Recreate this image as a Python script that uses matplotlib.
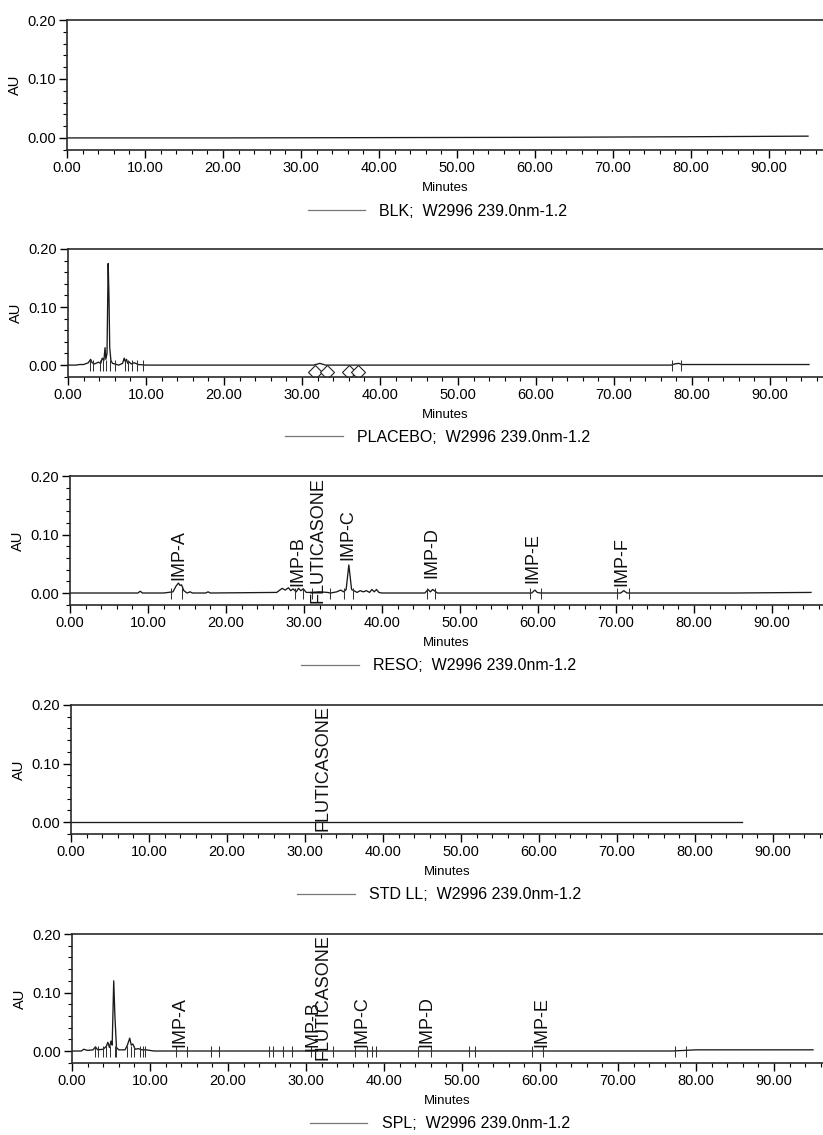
import matplotlib
matplotlib.use("Agg")
from matplotlib import pyplot as plt
from matplotlib.ticker import MultipleLocator, FormatStrFormatter
from matplotlib.lines import Line2D

plt.rcParams["font.family"] = ["Liberation Sans", "DejaVu Sans"]

# ---- data (time in minutes, AU) ----
run_names = ["BLK", "PLACEBO", "RESO", "STD LL", "SPL"]
detector = "W2996 239.0nm-1.2"

blk_t = [0, 10, 20, 40, 60, 80, 95]
blk_au = [0, 0, 0, 0.0005, 0.001, 0.002, 0.003]

placebo_t = [0, 1.0, 1.5, 2.0, 2.6, 2.9, 3.1, 3.4, 3.9, 4.2, 4.4, 4.6, 4.75,
             4.85, 5.0, 5.15, 5.25, 5.35, 5.5, 5.7, 6.0, 6.5, 7.0, 7.2, 7.35,
             7.5, 7.65, 7.8, 8.1, 8.5, 9.0, 10, 20, 31.5, 32.3, 33.0, 50,
             72, 77.3, 77.8, 78.3, 78.7, 85, 95]
placebo_au = [0, 0, 0.001, 0.001, 0.004, 0.010, 0.004, 0.002, 0.005, 0.003,
              0.012, 0.008, 0.030, 0.010, 0.020, 0.175, 0.120, 0.030, 0.008,
              0.003, 0.002, 0, 0.003, 0.012, 0.006, 0.010, 0.003, 0.006,
              0.002, 0.004, 0.001, 0, 0, 0, 0.003, 0, 0, 0, 0, 0.002, 0.003,
              0.001, 0.001, 0.001]

reso_t = [0, 5, 8.7, 9.0, 9.3, 12, 13.2, 13.6, 13.9, 14.1, 14.3, 14.6, 15.0,
          15.4, 15.7, 17.4, 17.7, 18.0, 26.5, 27.2, 27.6, 28.0, 28.3, 28.6,
          29.0, 29.3, 29.6, 29.9, 30.3, 31.0, 32.0, 33.0, 33.4, 34.2, 34.7,
          35.1, 35.4, 35.75, 36.1, 36.4, 36.8, 37.2, 37.6, 38.0, 38.4, 38.7,
          39.0, 39.3, 39.6, 40.0, 45.5, 45.9, 46.2, 46.5, 46.8, 47.1, 47.5,
          59.2, 59.6, 59.9, 60.3, 70.6, 71.0, 71.4, 85, 95]
reso_au = [0, 0, 0, 0.003, 0, 0, 0.002, 0.012, 0.017, 0.013, 0.014, 0.004, 0,
           0.002, 0, 0, 0.002, 0, 0.001, 0.008, 0.005, 0.009, 0.004, 0.007,
           0.002, 0.008, 0.004, 0.007, 0.001, 0.001, 0.002, 0.001, 0, 0.002,
           0.005, 0.002, 0.006, 0.048, 0.006, 0.004, 0.001, 0.004, 0.002,
           0.004, 0.001, 0.006, 0.002, 0.006, 0.001, 0, 0, 0.006, 0.002,
           0.006, 0.003, 0, 0, 0, 0.005, 0.001, 0, 0, 0.004, 0, 0, 0.001]

std_t = [0, 20, 40, 60, 86]
std_au = [0, 0, 0, 0, 0]

spl_t = [0, 1.2, 1.5, 2.0, 2.7, 3.0, 3.3, 4.0, 4.4, 4.6, 4.8, 5.0, 5.15,
         5.35, 5.5, 5.7, 6.0, 6.8, 7.1, 7.4, 7.6, 7.8, 8.1, 8.5, 9.0, 9.5,
         10.5, 20, 40, 60, 77, 80, 95]
spl_au = [0, 0, 0.003, 0.001, 0.002, 0.007, 0.002, 0.003, 0.008, 0.015,
          0.006, 0.017, 0.010, 0.120, 0.060, 0.006, 0.002, 0.002, 0.010,
          0.022, 0.010, 0.012, 0.003, 0.004, 0.002, 0.002, 0, 0, 0, 0, 0,
          0.002, 0.002]

# integration start/end marks
blk_marks = []
placebo_marks = [2.8, 3.2, 4.1, 4.5, 4.9, 5.4, 6.0, 7.3, 7.7, 8.2, 8.8, 9.6,
                 77.4, 78.6]
reso_marks = [13.0, 14.4, 28.8, 29.9, 31.0, 33.3, 35.1, 36.3, 45.8, 46.8,
              59.0, 60.4, 70.1, 71.7]
std_marks = []
spl_marks = [2.9, 3.3, 4.0, 4.4, 4.9, 5.5, 5.7, 7.0, 7.5, 7.9, 8.7, 9.1, 9.4,
             13.3, 14.8, 17.8, 18.9, 25.2, 25.8, 27.0, 28.2, 30.7, 33.5,
             36.3, 37.8, 38.5, 39.0, 44.4, 46.0, 50.9, 51.7, 59.0, 60.4,
             77.3, 78.7]

# diamond markers in the placebo run
placebo_diamond_t = [31.7, 33.2, 36.0, 37.2]
placebo_diamond_au = [-0.012, -0.012, -0.012, -0.012]

# peak names: time, AU at text foot
reso_names = ["IMP-A", "IMP-B", "FLUTICASONE", "IMP-C", "IMP-D", "IMP-E", "IMP-F"]
reso_name_t = [13.9, 29.2, 31.8, 35.6, 46.4, 59.4, 70.8]
reso_name_au = [0.022, 0.012, -0.017, 0.056, 0.025, 0.017, 0.012]

std_names = ["FLUTICASONE"]
std_name_t = [32.3]
std_name_au = [-0.016]

spl_names = ["IMP-A", "IMP-B", "FLUTICASONE", "IMP-C", "IMP-D", "IMP-E"]
spl_name_t = [13.8, 30.9, 32.2, 37.2, 45.5, 60.3]
spl_name_au = [0.007, 0.0, -0.015, 0.007, 0.007, 0.007]

traces = [(blk_t, blk_au), (placebo_t, placebo_au), (reso_t, reso_au),
          (std_t, std_au), (spl_t, spl_au)]
marks = [blk_marks, placebo_marks, reso_marks, std_marks, spl_marks]
names = [([], [], []), ([], [], []), (reso_names, reso_name_t, reso_name_au),
         (std_names, std_name_t, std_name_au), (spl_names, spl_name_t, spl_name_au)]

# ---- layout (pixels of the 823x1135 page) ----
W, H = 823, 1135
tops = [20, 249, 476, 705, 934]
bottoms = [150, 377, 605, 834, 1063]
lefts = [67, 68, 70, 71, 72]
px_per_min = 7.8

fig = plt.figure(figsize=(W / 100, H / 100), dpi=100)

for i in range(5):
    top, bot, left = tops[i], bottoms[i], lefts[i]
    ax = fig.add_axes([left / W, 1 - bot / H, 1 - left / W, (bot - top) / H])
    t, au = traces[i]
    ax.plot(t, au, color="#1a1a1a", lw=0.95)

    if marks[i]:
        ax.vlines(marks[i], -0.01, 0.009, color="#333333", lw=0.75)
    if i == 1:
        ax.plot(placebo_diamond_t, placebo_diamond_au, ls="none", marker="D",
                ms=7, mfc="white", mec="#222222", mew=0.8)

    nm, nt, na = names[i]
    for label, x, y in zip(nm, nt, na):
        ax.text(x, y, label, rotation=90, ha="center", va="bottom",
                fontsize=13, color="#111111")

    ax.set_xlim(0, (W - left) / px_per_min)
    ax.set_ylim(-0.0205, 0.20)
    ax.spines["right"].set_visible(False)
    for s in ["left", "top", "bottom"]:
        ax.spines[s].set_linewidth(1.2)
        ax.spines[s].set_color("#2a2a2a")

    ax.xaxis.set_major_locator(MultipleLocator(10))
    ax.xaxis.set_minor_locator(MultipleLocator(2))
    ax.yaxis.set_major_locator(MultipleLocator(0.10))
    ax.yaxis.set_minor_locator(MultipleLocator(0.02))
    ax.xaxis.set_major_formatter(FormatStrFormatter("%.2f"))
    ax.yaxis.set_major_formatter(FormatStrFormatter("%.2f"))
    ax.tick_params(axis="both", which="major", length=6, width=1.0,
                   labelsize=10.5, pad=2)
    ax.tick_params(axis="both", which="minor", length=3, width=0.8)
    ax.set_ylim(-0.0205, 0.20)

    ax.set_xlabel("Minutes", fontsize=9.5, labelpad=5)
    ax.set_ylabel("AU", fontsize=10.5, labelpad=4)

    handle = Line2D([], [], color="#777777", lw=0.9)
    ax.legend([handle], [run_names[i] + ";  " + detector], loc="center",
              bbox_to_anchor=(0.49, -0.47), frameon=False, fontsize=11.5,
              handlelength=3.6, handletextpad=0.9)

fig.savefig("out.png", dpi=100)
